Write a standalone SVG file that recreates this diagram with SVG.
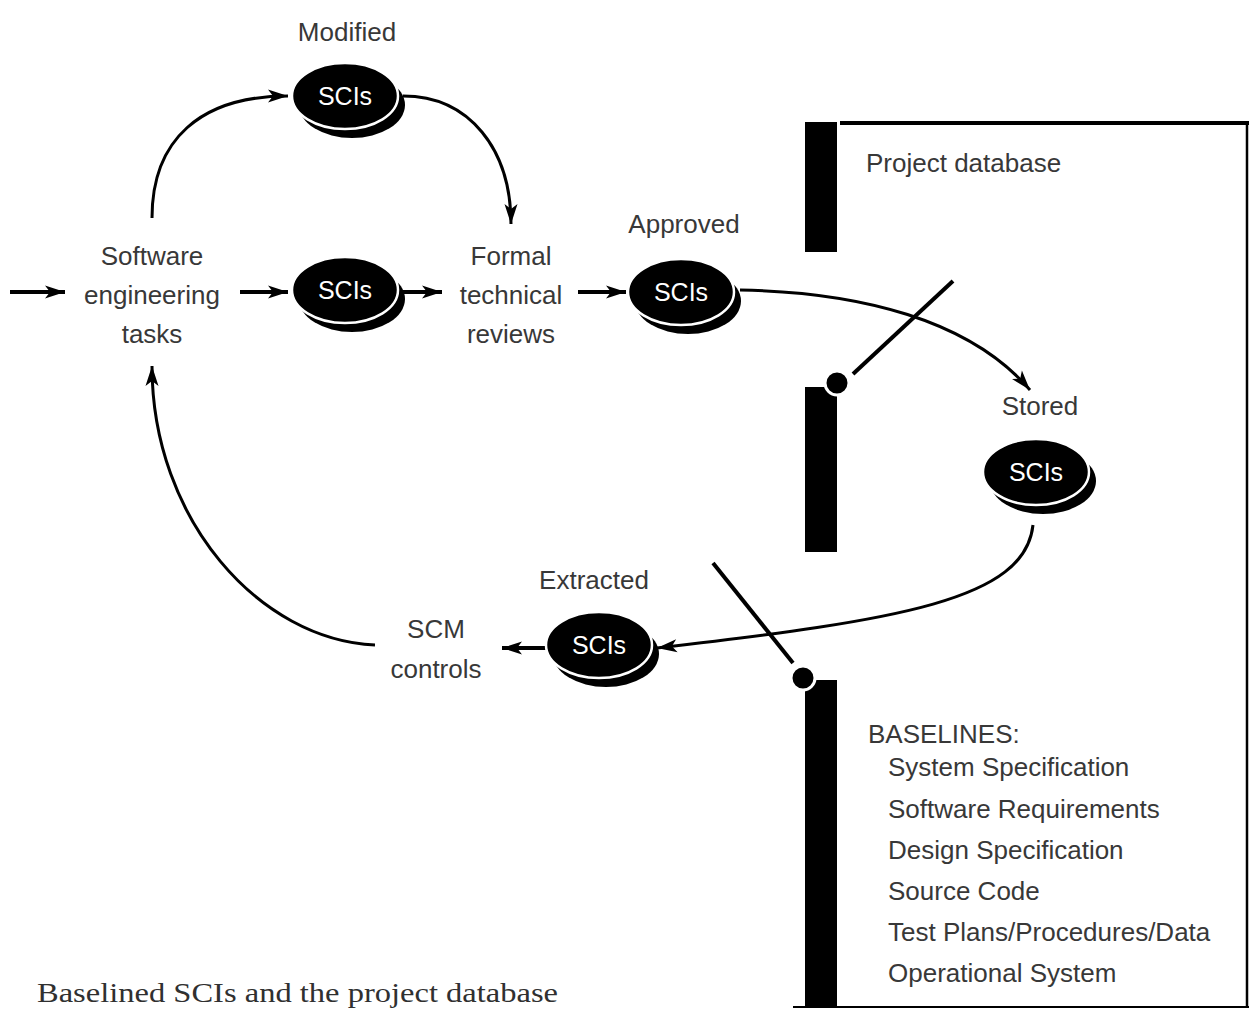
<svg xmlns="http://www.w3.org/2000/svg" width="1250" height="1010" viewBox="0 0 1250 1010">
<style>
.t{font-family:"Liberation Sans",Arial,sans-serif;font-size:26px;fill:#383838;}
.c{text-anchor:middle;}
.sci{font-family:"Liberation Sans",Arial,sans-serif;font-size:25px;fill:#fff;text-anchor:middle;}
.cap{font-family:"Liberation Serif","Times New Roman",serif;font-size:28px;fill:#303030;}
.ln{fill:none;stroke:#000;stroke-width:3;}
.thick{fill:none;stroke:#000;stroke-width:4;}
.bar{fill:#000;}
</style>
<defs>
<marker id="ah" viewBox="-22 -8 24 16" refX="0" refY="0" markerWidth="24" markerHeight="16" markerUnits="userSpaceOnUse" orient="auto">
<path d="M0,0 L-20,-6.5 L-15,0 L-20,6.5 Z" fill="#000"/>
</marker>
<g id="sciShape">
<ellipse cx="7" cy="9" rx="53" ry="33" fill="#000"/>
<ellipse cx="0" cy="0" rx="53" ry="33" fill="#000" stroke="#fff" stroke-width="2.5"/>
</g>
</defs>
<rect width="1250" height="1010" fill="#fff"/>

<g id="database">
<line x1="840" y1="123" x2="1249" y2="123" stroke="#000" stroke-width="4"/>
<line x1="1247" y1="121" x2="1247" y2="1008" stroke="#000" stroke-width="2.5"/>
<line x1="793" y1="1007" x2="1249" y2="1007" stroke="#000" stroke-width="2"/>
<rect class="bar" x="805" y="122" width="32" height="130"/>
<rect class="bar" x="805" y="387" width="32" height="165"/>
<rect class="bar" x="805" y="680" width="32" height="328"/>
<circle cx="837" cy="383" r="12" fill="#000" stroke="#fff" stroke-width="3"/>
<circle cx="803" cy="678" r="12" fill="#000" stroke="#fff" stroke-width="3"/>
<text class="t" x="866" y="172">Project database</text>
<text class="t" x="868" y="743">BASELINES:</text>
<text class="t" x="888" y="776">System Specification</text>
<text class="t" x="888" y="818">Software Requirements</text>
<text class="t" x="888" y="859">Design Specification</text>
<text class="t" x="888" y="900">Source Code</text>
<text class="t" x="888" y="941">Test Plans/Procedures/Data</text>
<text class="t" x="888" y="982">Operational System</text>
</g>

<g id="connectors">
<line class="thick" x1="853" y1="374" x2="953" y2="281"/>
<line class="thick" x1="713" y1="563" x2="793" y2="663"/>
<line class="thick" x1="10" y1="292" x2="65" y2="292" marker-end="url(#ah)"/>
<line class="thick" x1="240" y1="292" x2="288" y2="292" marker-end="url(#ah)"/>
<line class="thick" x1="402" y1="292" x2="442" y2="292" marker-end="url(#ah)"/>
<line class="thick" x1="578" y1="292" x2="626" y2="292" marker-end="url(#ah)"/>
<line class="thick" x1="548" y1="648" x2="502" y2="648" marker-end="url(#ah)"/>
<path class="ln" d="M152,218 C152,140 200,96 288,96" marker-end="url(#ah)"/>
<path class="ln" d="M403,96 C470,96 511,150 511,224" marker-end="url(#ah)"/>
<path class="ln" d="M740,290 C860,292 970,320 1030,390" marker-end="url(#ah)"/>
<path class="ln" d="M1033,525 C1025,600 900,620 657,648" marker-end="url(#ah)"/>
<path class="ln" d="M375,645 C260,640 152,520 152,366" marker-end="url(#ah)"/>
</g>

<g id="sw-tasks">
<text class="t c" x="152" y="265">Software</text>
<text class="t c" x="152" y="304">engineering</text>
<text class="t c" x="152" y="343">tasks</text>
</g>
<g id="ftr">
<text class="t c" x="511" y="265">Formal</text>
<text class="t c" x="511" y="304">technical</text>
<text class="t c" x="511" y="343">reviews</text>
</g>
<g id="scm">
<text class="t c" x="436" y="638">SCM</text>
<text class="t c" x="436" y="678">controls</text>
</g>

<g id="sci-modified">
<text class="t c" x="347" y="41">Modified</text>
<use href="#sciShape" x="345" y="96"/>
<text class="sci" x="345" y="105">SCIs</text>
</g>
<g id="sci-work">
<use href="#sciShape" x="345" y="290"/>
<text class="sci" x="345" y="299">SCIs</text>
</g>
<g id="sci-approved">
<text class="t c" x="684" y="233">Approved</text>
<use href="#sciShape" x="681" y="292"/>
<text class="sci" x="681" y="301">SCIs</text>
</g>
<g id="sci-stored">
<text class="t c" x="1040" y="415">Stored</text>
<use href="#sciShape" x="1036" y="472"/>
<text class="sci" x="1036" y="481">SCIs</text>
</g>
<g id="sci-extracted">
<text class="t c" x="594" y="589">Extracted</text>
<use href="#sciShape" x="599" y="645"/>
<text class="sci" x="599" y="654">SCIs</text>
</g>

<text class="cap" x="37" y="1002" textLength="521" lengthAdjust="spacingAndGlyphs">Baselined SCIs and the project database</text>
</svg>
